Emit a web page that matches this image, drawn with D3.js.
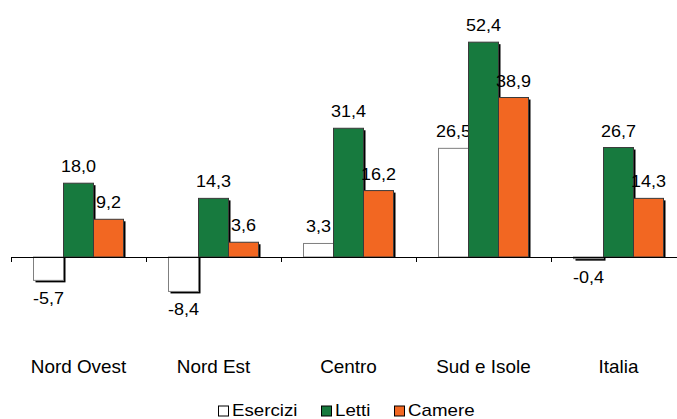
<!DOCTYPE html>
<html>
<head>
<meta charset="utf-8">
<script src="https://cdn.jsdelivr.net/npm/d3@7"></script>
<style>
  html, body { margin: 0; padding: 0; background: #ffffff; }
  svg { display: block; }
  text { font-family: "Liberation Sans", Arial, sans-serif; fill: #000; }
</style>
</head>
<body>
<svg id="chart" width="677" height="419"></svg>
<script>
// Regions and the three measures (percent change)
const regions = ["Nord Ovest", "Nord Est", "Centro", "Sud e Isole", "Italia"];
const seriesNames = ["Esercizi", "Letti", "Camere"];
const esercizi = [-5.7, -8.4, 3.3, 26.5, -0.4];
const letti = [18.0, 14.3, 31.4, 52.4, 26.7];
const camere = [9.2, 3.6, 16.2, 38.9, 14.3];
const seriesColors = ["#ffffff", "#177a3e", "#f26722"];

const seriesValues = [esercizi, letti, camere];
const fmt = v => v.toFixed(1).replace(".", ",");

const svg = d3.select("#chart");

const x = d3.scaleBand().domain(regions).range([11, 686]).paddingInner(0).paddingOuter(0);
const xs = d3.scaleBand().domain(seriesNames).range([0, x.bandwidth()]).paddingInner(0).paddingOuter(0.75);
const y = d3.scaleLinear().domain([-10, 60]).range([298, 11]);

// Text is drawn slightly widened horizontally
const wideText = (sel, sx) => sel.attr("transform", function () {
  const t = d3.select(this);
  return `translate(${+t.attr("data-x")},${+t.attr("data-y")}) scale(${sx},1)`;
});

// Bars with a small black drop shadow
const groups = svg.append("g").selectAll("g")
  .data(regions)
  .join("g")
  .attr("transform", d => `translate(${x(d)},0)`);

const cells = groups.selectAll("g.bar")
  .data((r, i) => seriesNames.map((s, k) => ({ series: s, k, value: seriesValues[k][i] })))
  .join("g").attr("class", "bar");

const sh = 2;
cells.append("rect")
  .attr("x", d => xs(d.series) + sh)
  .attr("y", d => d.value >= 0 ? y(d.value) + sh : y(0))
  .attr("width", xs.bandwidth())
  .attr("height", d => d.value >= 0 ? Math.max(0, y(0) - y(d.value) - sh) : y(d.value) - y(0) + sh)
  .attr("fill", "#000");

cells.append("rect")
  .attr("x", d => xs(d.series))
  .attr("y", d => Math.min(y(d.value), y(0)))
  .attr("width", xs.bandwidth())
  .attr("height", d => Math.abs(y(d.value) - y(0)))
  .attr("fill", d => seriesColors[d.k])
  .attr("stroke", d => d.k === 0 ? "#7f7f7f" : "#3a3a3a")
  .attr("stroke-width", 1);

// Value labels
cells.append("text")
  .attr("data-x", d => xs(d.series) + xs.bandwidth() / 2)
  .attr("data-y", d => d.value >= 0 ? y(d.value) - 11 : y(d.value) + 24)
  .attr("text-anchor", "middle")
  .attr("font-size", 17)
  .text(d => fmt(d.value))
  .call(wideText, 1.06);

// Category axis along zero
const axisG = svg.append("g").attr("transform", `translate(0,${y(0)})`)
  .call(d3.axisBottom(x).tickSize(0).tickFormat(""));
axisG.select(".domain").attr("d", `M${x.range()[0]},0.5H${x.range()[1]}`).attr("stroke", "#000");
axisG.selectAll(".tick").remove();
axisG.selectAll(".edge")
  .data(regions.map(r => x(r)))
  .join("line")
  .attr("x1", d => d + 0.5).attr("x2", d => d + 0.5)
  .attr("y1", 0).attr("y2", 5)
  .attr("stroke", "#000");

// Category labels
svg.append("g").selectAll("text")
  .data(regions)
  .join("text")
  .attr("data-x", d => x(d) + x.bandwidth() / 2)
  .attr("data-y", 373)
  .attr("text-anchor", "middle")
  .attr("font-size", 18)
  .text(d => d)
  .call(wideText, 1.05);

// Legend
const legendX = [218, 321, 394];
const legend = svg.append("g").selectAll("g")
  .data(seriesNames)
  .join("g")
  .attr("transform", (d, i) => `translate(${legendX[i]},405.5)`);
legend.append("rect")
  .attr("x", 0.5).attr("y", 0.5).attr("width", 10).attr("height", 10)
  .attr("fill", (d, i) => seriesColors[i])
  .attr("stroke", "#000");
legend.append("text")
  .attr("data-x", 14).attr("data-y", 10)
  .attr("font-size", 16)
  .text(d => d)
  .call(wideText, 1.17);
</script>
</body>
</html>
